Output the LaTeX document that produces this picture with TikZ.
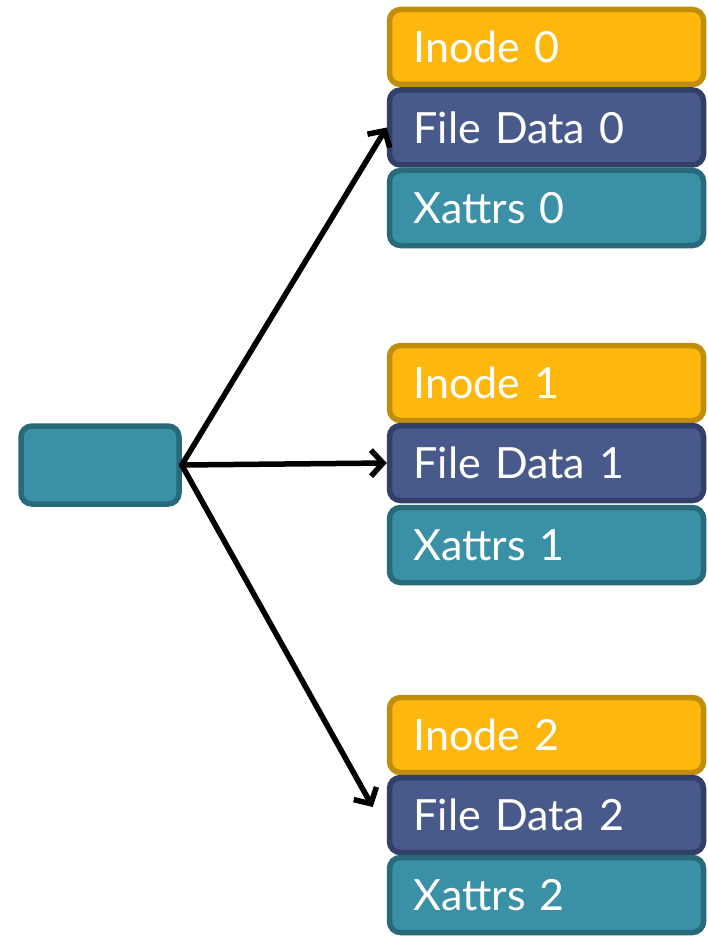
\documentclass[tikz,border=0pt]{standalone}
\usepackage{fontspec}
\setmainfont{Lato}
\usetikzlibrary{arrows.meta}
\definecolor{inodefill}{RGB}{253,183,13}
\definecolor{inodeline}{RGB}{192,142,10}
\definecolor{datafill}{RGB}{72,90,140}
\definecolor{dataline}{RGB}{50,63,102}
\definecolor{xattrfill}{RGB}{58,145,165}
\definecolor{xattrline}{RGB}{40,106,122}
\tikzset{
  cell/.style={rectangle, rounded corners=11pt, line width=5.5pt,
    minimum height=75pt, inner xsep=24pt, inner ysep=0pt,
    text width=266pt, align=left, text=white,
    font=\fontsize{43}{48}\selectfont},
  inodebox/.style={cell, draw=inodeline, fill=inodefill},
  databox/.style={cell, draw=dataline, fill=datafill},
  xattrbox/.style={cell, draw=xattrline, fill=xattrfill},
  srcbox/.style={rectangle, rounded corners=11pt, line width=5.5pt,
    draw=xattrline, fill=xattrfill, minimum width=158pt, minimum height=78pt},
  link/.style={line width=5.5pt, line cap=round,
    -{Straight Barb[length=12pt,width=26pt,line width=5.5pt]}}
}
\begin{document}
\begin{tikzpicture}[x=1pt,y=-1pt]
\useasboundingbox (0,0) rectangle (708,936);
% source block
\node[srcbox] (src) at (100,465) {};
% group 0
\node[inodebox] (in0) at (546.5,47) {Inode 0};
\node[databox]  (fd0) at (546.5,127.5) {File Data 0};
\node[xattrbox] (xa0) at (546.5,208) {Xattrs 0};
% group 1
\node[inodebox] (in1) at (546.5,383) {Inode 1};
\node[databox]  (fd1) at (546.5,463) {File Data 1};
\node[xattrbox] (xa1) at (546.5,545) {Xattrs 1};
% group 2
\node[inodebox] (in2) at (546.5,735) {Inode 2};
\node[databox]  (fd2) at (546.5,815) {File Data 2};
\node[xattrbox] (xa2) at (546.5,895) {Xattrs 2};
% the third pointer stops a little short of its block
\coordinate (end2) at ([xshift=-14pt,yshift=8pt]fd2.west);
% pointers
\draw[link] (src.east) -- (fd0.west);
\draw[link] (src.east) -- (fd1.west);
\draw[link] (src.east) -- (end2);
\end{tikzpicture}
\end{document}
